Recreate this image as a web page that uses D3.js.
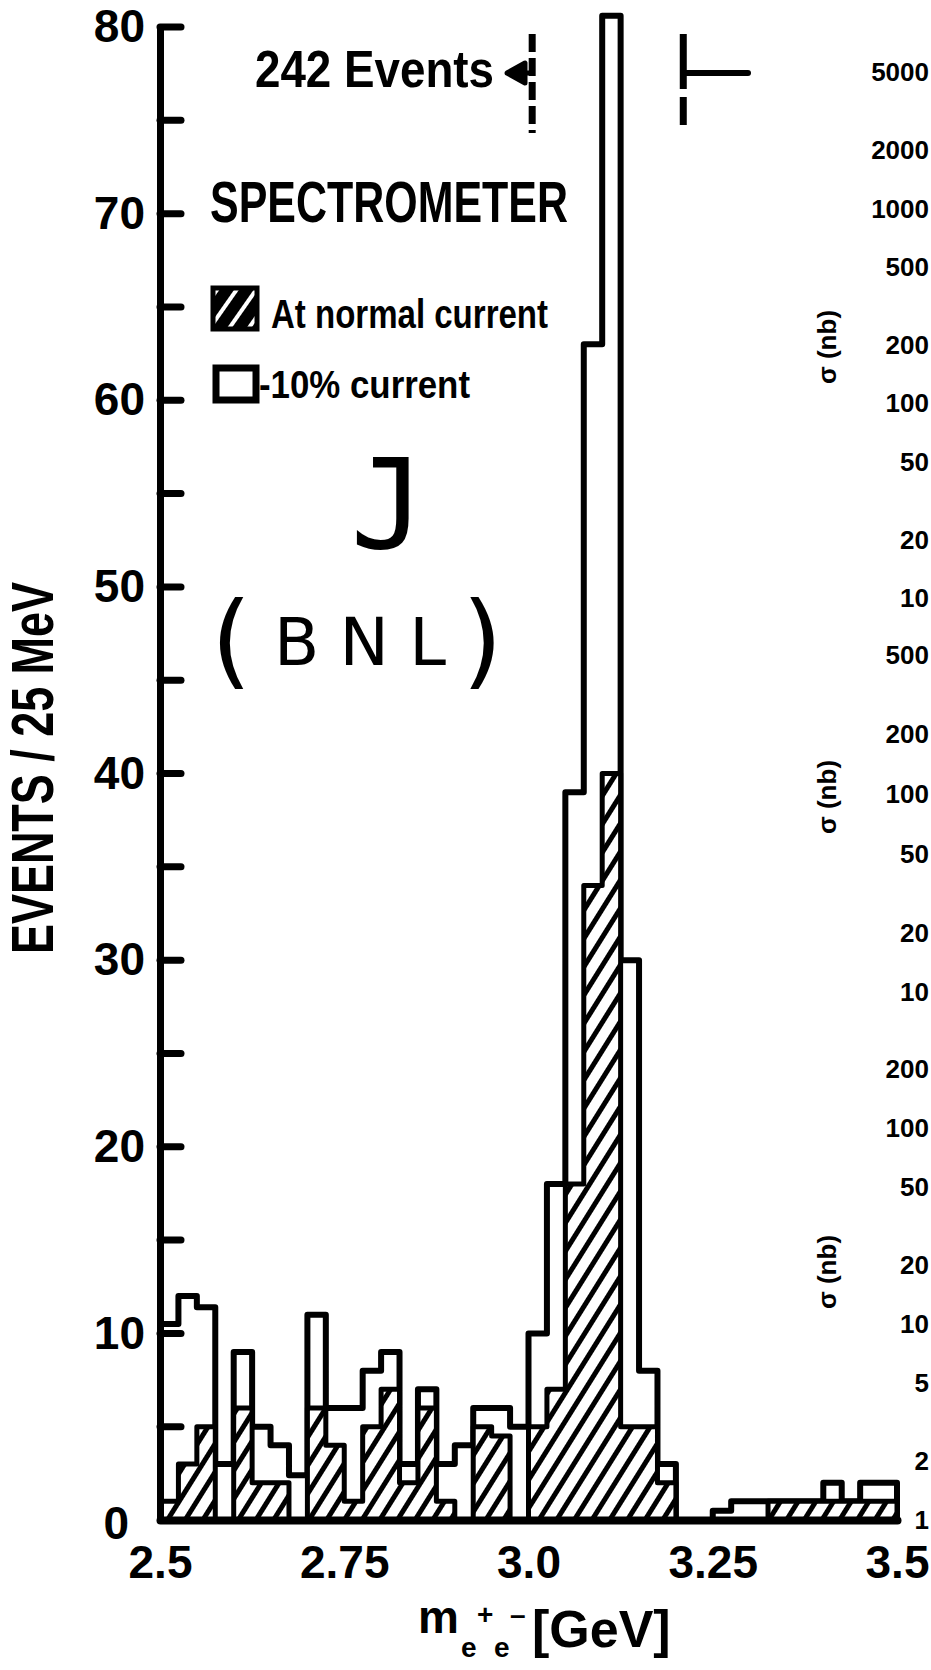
<!DOCTYPE html>
<html>
<head>
<meta charset="utf-8">
<script src="https://cdn.jsdelivr.net/npm/d3@7"></script>
<style>
  body { margin: 0; background: #fff; }
  svg { display: block; }
  text { font-family: "Liberation Sans", Arial, sans-serif; font-weight: bold; fill: #000; }
  .hand { font-family: "DejaVu Sans", sans-serif; font-weight: normal; }
</style>
</head>
<body>
<div id="chart"></div>
<script>
// mass bins (left edge, GeV), 25 MeV wide
const binStarts = [2.500, 2.525, 2.550, 2.575, 2.600, 2.625, 2.650, 2.675, 2.700, 2.725,
                   2.750, 2.775, 2.800, 2.825, 2.850, 2.875, 2.900, 2.925, 2.950, 2.975,
                   3.000, 3.025, 3.050, 3.075, 3.100, 3.125, 3.150, 3.175, 3.200, 3.225,
                   3.250, 3.275, 3.300, 3.325, 3.350, 3.375, 3.400, 3.425, 3.450, 3.475];
// outline histogram (includes -10% current events)
const openCounts = [10.5, 12, 11.4, 3, 9, 5, 4, 2.4, 11, 6,
                    6, 8, 9, 3, 7, 3, 4, 6, 6, 5,
                    10, 18, 39, 63, 80.6, 30, 8, 3, 0, 0,
                    0.5, 1, 1, 1, 1, 1, 2, 1, 2, 2];
// hatched histogram, at normal current
const normalCounts = [1, 3, 5, 0, 6, 2, 2, 0, 6, 4,
                      1, 5, 7, 2, 6, 1, 0, 5, 4.5, 0,
                      5, 7, 18, 34, 40, 5, 5, 2, 0, 0,
                      0, 0, 0, 1, 1, 1, 1, 1, 1, 1];
const binEnd = 3.5;

const yTickValues = [0, 10, 20, 30, 40, 50, 60, 70, 80];
const yMinorTicks = [5, 10, 15, 20, 25, 30, 35, 40, 45, 50, 55, 60, 65, 70, 75, 80];
const xTickValues = [2.5, 2.75, 3.0, 3.25, 3.5];
const xTickLabels = ["2.5", "2.75", "3.0", "3.25", "3.5"];
// spectrometer markers at the top
const markerMasses = [3.005, 3.21];

// tick labels of the neighbouring (cut off) log panels
const logTicksA = [5000, 2000, 1000, 500, 200, 100, 50, 20, 10];
const logTicksB = [500, 200, 100, 50, 20, 10];
const logTicksC = [200, 100, 50, 20, 10, 5, 2, 1];

const width = 931, height = 1670;

const svg = d3.select("#chart")
    .append("svg")
    .attr("width", width)
    .attr("height", height);

const defs = svg.append("defs");
const hatch = defs.append("pattern")
    .attr("id", "hatch")
    .attr("patternUnits", "userSpaceOnUse")
    .attr("width", 15).attr("height", 15)
    .attr("patternTransform", "rotate(32)");
hatch.append("rect").attr("width", 15).attr("height", 15).attr("fill", "#fff");
hatch.append("rect").attr("width", 5).attr("height", 15).attr("fill", "#000");

const hatchDark = defs.append("pattern")
    .attr("id", "hatchDark")
    .attr("patternUnits", "userSpaceOnUse")
    .attr("width", 16).attr("height", 16)
    .attr("patternTransform", "rotate(35)");
hatchDark.append("rect").attr("width", 16).attr("height", 16).attr("fill", "#000");
hatchDark.append("rect").attr("x", 6).attr("width", 4).attr("height", 16).attr("fill", "#fff");

// scales
const x = d3.scaleLinear().domain([2.5, 3.5]).range([160, 897]);
const y = d3.scaleLinear().domain([0, 80]).range([1520, 27]);

// histogram step outlines
function stepPoints(counts) {
    const pts = [[binStarts[0], 0]];
    binStarts.forEach((b, i) => pts.push([b, counts[i]]));
    pts.push([binEnd, counts[counts.length - 1]]);
    pts.push([binEnd, 0]);
    return pts;
}
const step = d3.line()
    .x(d => x(d[0]))
    .y(d => y(d[1]))
    .curve(d3.curveStepAfter);

svg.append("path")
    .datum(stepPoints(openCounts))
    .attr("d", step)
    .attr("fill", "#fff")
    .attr("stroke", "#000")
    .attr("stroke-width", 6)
    .attr("stroke-linejoin", "round");

svg.append("path")
    .datum(stepPoints(normalCounts))
    .attr("d", step)
    .attr("fill", "url(#hatch)")
    .attr("stroke", "#000")
    .attr("stroke-width", 5)
    .attr("stroke-linejoin", "round");

// y axis
const yAxis = svg.append("g")
    .attr("transform", "translate(160,0)")
    .call(d3.axisLeft(y).tickValues(yTickValues).tickSize(0).tickPadding(15))
    .attr("font-family", null)
    .attr("font-size", null);
yAxis.select(".domain").attr("stroke-width", 7).attr("stroke-linecap", "round");
yAxis.selectAll("text").style("font-size", "46px");
// the zero sits low and left, next to "2.5"
yAxis.selectAll(".tick").filter(d => d === 0).select("text")
    .attr("x", -31).attr("dy", "0.4em");

svg.append("g")
    .selectAll("line")
    .data(yMinorTicks)
    .enter()
    .append("line")
    .attr("x1", 160).attr("x2", 181)
    .attr("y1", d => y(d)).attr("y2", d => y(d))
    .attr("stroke", "#000")
    .attr("stroke-width", 7)
    .attr("stroke-linecap", "round");

// x axis (baseline + labels)
const xAxis = svg.append("g")
    .attr("transform", `translate(0,${y(0)})`)
    .call(d3.axisBottom(x).tickValues(xTickValues)
        .tickFormat((d, i) => xTickLabels[i]).tickSize(0).tickPadding(25))
    .attr("font-family", null)
    .attr("font-size", null);
xAxis.select(".domain").attr("stroke-width", 8).attr("stroke-linecap", "round");
xAxis.selectAll("text").style("font-size", "46px");

// axis titles
svg.append("text")
    .attr("transform", "translate(53,768) rotate(-90)")
    .attr("text-anchor", "middle")
    .attr("textLength", 372)
    .attr("lengthAdjust", "spacingAndGlyphs")
    .style("font-size", "60px")
    .text("EVENTS / 25 MeV");

const xt = svg.append("text")
    .attr("x", 418).attr("y", 1633)
    .style("font-size", "46px");
xt.append("tspan").text("m");
xt.append("tspan").attr("x", 461).attr("y", 1657).style("font-size", "28px").text("e");
xt.append("tspan").attr("x", 477).attr("y", 1624).style("font-size", "28px").text("+");
xt.append("tspan").attr("x", 494).attr("y", 1657).style("font-size", "28px").text("e");
xt.append("tspan").attr("x", 510).attr("y", 1624).style("font-size", "28px").text("\u2013");
xt.append("tspan").attr("x", 532).attr("y", 1647).style("font-size", "52px").text("[GeV]");

// annotations at the top
svg.append("text")
    .attr("x", 255).attr("y", 87)
    .attr("textLength", 239)
    .attr("lengthAdjust", "spacingAndGlyphs")
    .style("font-size", "52px")
    .text("242 Events");

svg.append("line")
    .attr("x1", x(markerMasses[0])).attr("x2", x(markerMasses[0]))
    .attr("y1", 34).attr("y2", 133)
    .attr("stroke", "#000").attr("stroke-width", 7)
    .attr("stroke-dasharray", "18,6");
svg.append("path")
    .attr("d", `M${x(markerMasses[0])},73 H522 L507,73 L525,63 V83 L507,73`)
    .attr("fill", "#000").attr("stroke", "#000").attr("stroke-width", 5)
    .attr("stroke-linejoin", "round");

svg.append("line")
    .attr("x1", x(markerMasses[1])).attr("x2", x(markerMasses[1]))
    .attr("y1", 34).attr("y2", 125)
    .attr("stroke", "#000").attr("stroke-width", 7)
    .attr("stroke-dasharray", "55,8");
svg.append("line")
    .attr("x1", x(markerMasses[1])).attr("x2", 748)
    .attr("y1", 73).attr("y2", 73)
    .attr("stroke", "#000").attr("stroke-width", 6)
    .attr("stroke-linecap", "round");

svg.append("text")
    .attr("x", 210).attr("y", 222)
    .attr("textLength", 358)
    .attr("lengthAdjust", "spacingAndGlyphs")
    .style("font-size", "58px")
    .text("SPECTROMETER");

// legend
svg.append("rect")
    .attr("x", 213).attr("y", 288).attr("width", 44).attr("height", 41)
    .attr("fill", "url(#hatchDark)")
    .attr("stroke", "#000").attr("stroke-width", 5);
svg.append("text")
    .attr("x", 271).attr("y", 328)
    .attr("textLength", 277)
    .attr("lengthAdjust", "spacingAndGlyphs")
    .style("font-size", "40px")
    .text("At normal current");

svg.append("rect")
    .attr("x", 216).attr("y", 368).attr("width", 40).attr("height", 32)
    .attr("fill", "#fff")
    .attr("stroke", "#000").attr("stroke-width", 7);
svg.append("text")
    .attr("x", 259).attr("y", 398)
    .attr("textLength", 211)
    .attr("lengthAdjust", "spacingAndGlyphs")
    .style("font-size", "38px")
    .text("-10% current");

// handwritten label
svg.append("text")
    .attr("x", 388).attr("y", 548)
    .attr("text-anchor", "middle")
    .style("font-family", "'DejaVu Sans Mono', monospace")
    .style("font-weight", "normal")
    .style("font-size", "125px")
    .text("J");
svg.append("text")
    .attr("class", "hand")
    .attr("x", 211).attr("y", 676)
    .style("font-size", "104px")
    .text("(");
svg.append("text")
    .attr("class", "hand")
    .attr("x", 274).attr("y", 665)
    .attr("textLength", 172)
    .style("font-size", "66px")
    .text("BNL");
svg.append("text")
    .attr("class", "hand")
    .attr("x", 462).attr("y", 676)
    .style("font-size", "104px")
    .text(")");

// cut-off log axes of the next panel on the right
const logPanels = [
    {ticks: logTicksA, scale: d3.scaleLog().domain([10, 5000]).range([598, 72]), title: 347},
    {ticks: logTicksB, scale: d3.scaleLog().domain([10, 500]).range([992, 655]), title: 797},
    {ticks: logTicksC, scale: d3.scaleLog().domain([1, 200]).range([1520, 1069]), title: 1272}
];
logPanels.forEach(p => {
    svg.append("g")
        .selectAll("text")
        .data(p.ticks)
        .enter()
        .append("text")
        .attr("x", 929)
        .attr("y", d => p.scale(d))
        .attr("dy", "0.36em")
        .attr("text-anchor", "end")
        .style("font-size", "26px")
        .text(d => d);
    svg.append("text")
        .attr("transform", `translate(836,${p.title}) rotate(-90)`)
        .attr("text-anchor", "middle")
        .style("font-size", "26px")
        .text("\u03c3 (nb)");
});
</script>
</body>
</html>
